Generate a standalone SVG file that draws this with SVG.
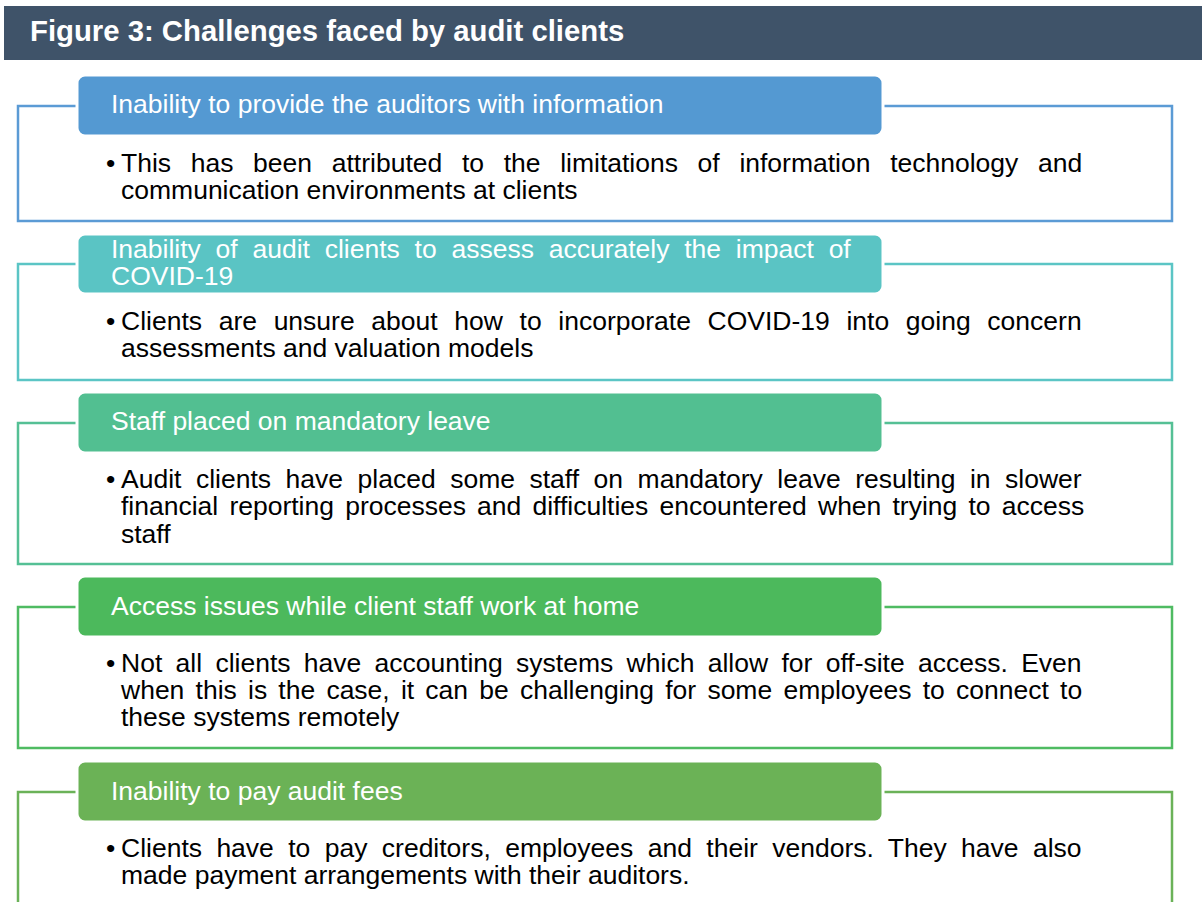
<svg xmlns="http://www.w3.org/2000/svg" width="1202" height="902" viewBox="0 0 1202 902">
<style>
text{font-family:"Liberation Sans",Arial,sans-serif}
.hdr{font-size:29.3px;font-weight:bold;fill:#fff}
.tt{font-size:26.5px;fill:#fff}
.bd{font-size:26.5px;fill:#000}
.frame{fill:none;stroke-width:2.5}
.pill{stroke:#fff;stroke-width:3}
</style>
<rect x="0" y="0" width="1202" height="902" fill="#fff"/>
<g id="header">
<rect x="4" y="6" width="1198" height="54" fill="#3f5369"/>
<text class="hdr" x="30" y="40.5">Figure 3: Challenges faced by audit clients</text>
</g>
<g id="connectors"></g>
<g id="node1">
<rect class="frame" x="18" y="106" width="1154" height="115" stroke="#5b9bd5"/>
<rect class="pill" x="77" y="75" width="806" height="61" rx="8" fill="#5499d2"/>
<text class="tt" x="111" y="113">Inability to provide the auditors with information</text>
<text class="bd" x="106" y="172">•</text>
<text class="bd" x="121" y="172" word-spacing="12.3">This has been attributed to the limitations of information technology and</text>
<text class="bd" x="121" y="199">communication environments at clients</text>
</g>
<g id="node2">
<rect class="frame" x="18" y="264" width="1154" height="116" stroke="#5bc5c5"/>
<rect class="pill" x="77" y="234" width="806" height="60" rx="8" fill="#5ac4c4"/>
<text class="tt" x="111" y="258" word-spacing="7.4">Inability of audit clients to assess accurately the impact of</text>
<text class="tt" x="111" y="285">COVID-19</text>
<text class="bd" x="106" y="330">•</text>
<text class="bd" x="121" y="330" word-spacing="9.3">Clients are unsure about how to incorporate COVID-19 into going concern</text>
<text class="bd" x="121" y="357">assessments and valuation models</text>
</g>
<g id="node3">
<rect class="frame" x="18" y="423" width="1154" height="141" stroke="#55c095"/>
<rect class="pill" x="77" y="392" width="806" height="61" rx="8" fill="#52bf91"/>
<text class="tt" x="111" y="430">Staff placed on mandatory leave</text>
<text class="bd" x="106" y="488">•</text>
<text class="bd" x="121" y="488" word-spacing="7.16">Audit clients have placed some staff on mandatory leave resulting in slower</text>
<text class="bd" x="121" y="515" word-spacing="3.8">financial reporting processes and difficulties encountered when trying to access</text>
<text class="bd" x="121" y="543">staff</text>
</g>
<g id="node4">
<rect class="frame" x="18" y="607" width="1154" height="141" stroke="#4fbb62"/>
<rect class="pill" x="77" y="576" width="806" height="61" rx="8" fill="#4cb95c"/>
<text class="tt" x="111" y="615">Access issues while client staff work at home</text>
<text class="bd" x="106" y="672">•</text>
<text class="bd" x="121" y="672" word-spacing="5.96">Not all clients have accounting systems which allow for off-site access. Even</text>
<text class="bd" x="121" y="699" word-spacing="3.84">when this is the case, it can be challenging for some employees to connect to</text>
<text class="bd" x="121" y="726">these systems remotely</text>
</g>
<g id="node5">
<path class="frame" d="M18,910 V792 H1172 V910" stroke="#6bb258"/>
<rect class="pill" x="77" y="761" width="806" height="61" rx="8" fill="#6bb256"/>
<text class="tt" x="111" y="800">Inability to pay audit fees</text>
<text class="bd" x="106" y="857">•</text>
<text class="bd" x="121" y="857" word-spacing="7.02">Clients have to pay creditors, employees and their vendors. They have also</text>
<text class="bd" x="121" y="884">made payment arrangements with their auditors.</text>
</g>
</svg>
